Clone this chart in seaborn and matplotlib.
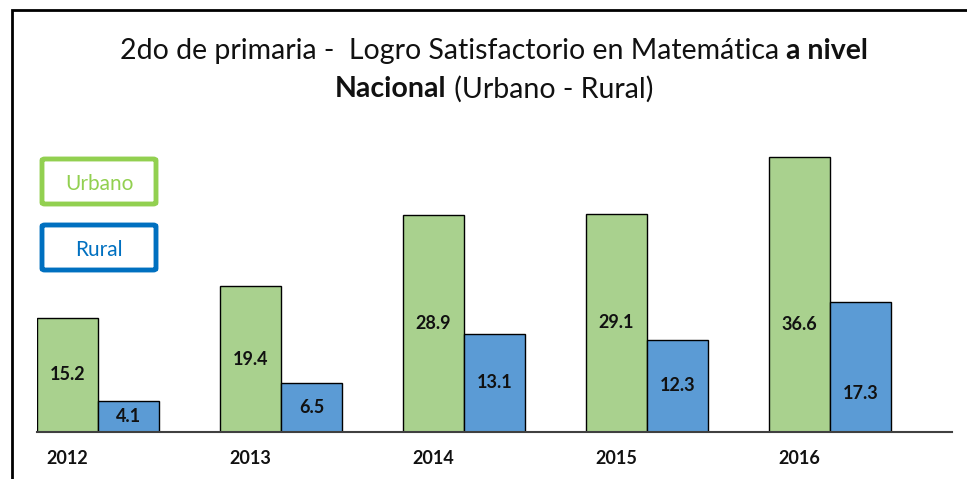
import matplotlib
matplotlib.use("Agg")
import matplotlib.pyplot as plt
from matplotlib.patches import Rectangle, FancyBboxPatch
import numpy as np
import pandas as pd
import seaborn as sns

# datos
years = ["2012", "2013", "2014", "2015", "2016"]
urbano = [15.2, 19.4, 28.9, 29.1, 36.6]
rural = [4.1, 6.5, 13.1, 12.3, 17.3]
series = ["Urbano", "Rural"]
bar_colors = ["#a9d18e", "#5b9bd5"]
legend_colors = ["#92d050", "#0070c0"]

df = pd.DataFrame({
    "year": years * 2,
    "grupo": ["Urbano"] * len(years) + ["Rural"] * len(years),
    "valor": urbano + rural,
})

sns.set_theme(style="white")
plt.rcParams["font.family"] = ["Lato", "DejaVu Sans"]

W, H = 967, 479
fig = plt.figure(figsize=(W / 100, H / 100), dpi=100)
ax = fig.add_axes([37 / W, 1 - 432 / H, (952 - 37) / W, (432 - 140) / H])

sns.barplot(data=df, x="year", y="valor", hue="grupo", hue_order=series,
            palette=bar_colors, width=0.667, edgecolor="black", linewidth=1,
            saturation=1, legend=False, ax=ax)

ax.set_xlim(-0.3335, 4.6665)
ax.set_ylim(0, 38.9)
ax.set_xlabel("")
ax.set_ylabel("")
ax.set_yticks([])
ax.set_xticks(np.arange(len(years)) - 0.1667)
ax.set_xticklabels(years, fontsize=13, fontweight="bold", color="#111111")
ax.tick_params(axis="x", length=0, pad=13)
for s in ["top", "left", "right"]:
    ax.spines[s].set_visible(False)
ax.spines["bottom"].set_color("#404040")
ax.spines["bottom"].set_linewidth(1.5)

# etiquetas de valor dentro de las barras
shift_u = [0, 0, 0, 0, -4]
shift_r = [0, 0, 0, 0, -3.5]
for i in range(len(years)):
    ax.text(i - 0.1667, urbano[i] / 2 + shift_u[i], f"{urbano[i]:.1f}",
            ha="center", va="center", fontsize=13, fontweight="bold", color="#111111")
    ax.text(i + 0.1667, rural[i] / 2 + shift_r[i], f"{rural[i]:.1f}",
            ha="center", va="center", fontsize=13, fontweight="bold", color="#111111")

# marco exterior
fig.patches.append(Rectangle((12 / W, -0.1), 1.2, 1 - 10 / H + 0.1,
                             transform=fig.transFigure, fill=False,
                             edgecolor="black", linewidth=2))

# leyenda como cajas
for k, (name, col) in enumerate(zip(series, legend_colors)):
    y0 = 157 + k * 66
    fig.patches.append(FancyBboxPatch((42 / W, 1 - (y0 + 47) / H), 114 / W, 45 / H,
                                      boxstyle="round,pad=0,rounding_size=0.003",
                                      transform=fig.transFigure, fill=False,
                                      edgecolor=col, linewidth=3.5))
    fig.text(99 / W, 1 - (y0 + 27) / H, name, color=col, fontsize=15,
             ha="center", va="center")

# titulo con partes en negrita
def rich_line(parts, yc, size=20.5):
    renderer = fig.canvas.get_renderer()
    texts = []
    for txt, bold in parts:
        t = fig.text(0, 1 - yc / H, txt, fontsize=size, va="center", ha="left",
                     fontweight="bold" if bold else "normal", color="#111111")
        texts.append(t)
    widths = [t.get_window_extent(renderer).width for t in texts]
    x = 494 - sum(widths) / 2
    for t, w in zip(texts, widths):
        t.set_x(x / W)
        x += w

rich_line([("2do de primaria -  Logro Satisfactorio en Matemática ", False),
           ("a nivel", True)], 51)
rich_line([("Nacional", True), (" (Urbano - Rural)", False)], 89)

fig.savefig("out.png", dpi=100)
